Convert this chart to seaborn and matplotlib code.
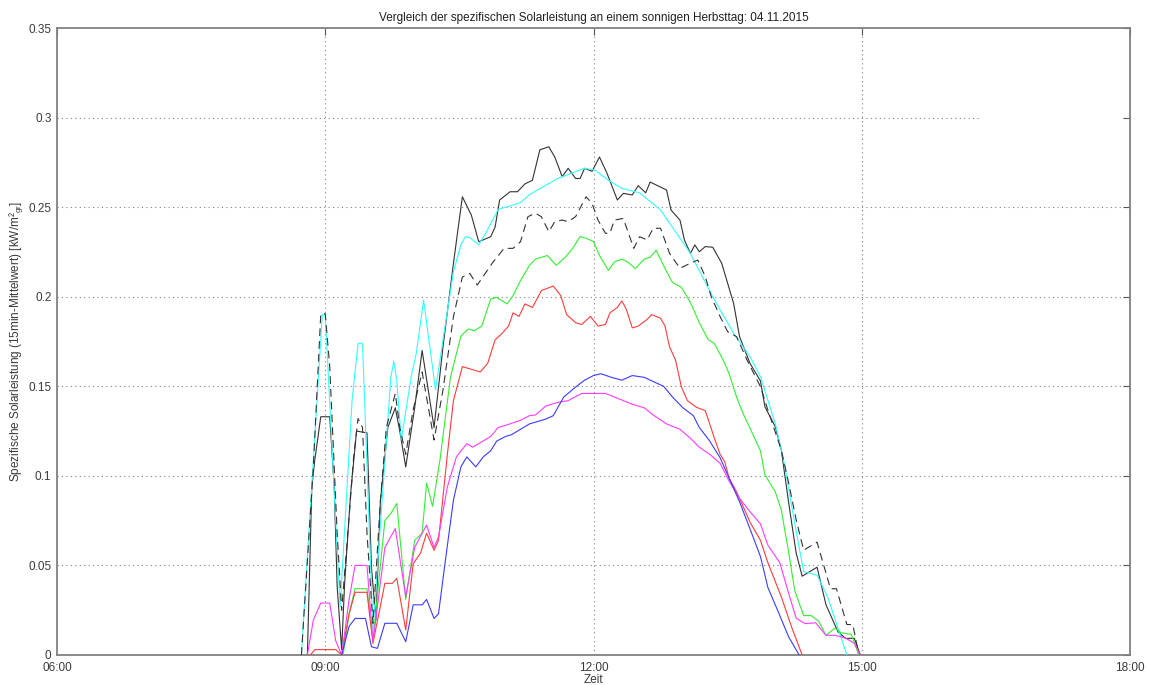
import numpy as np
import pandas as pd
import matplotlib
matplotlib.use("Agg")
import matplotlib.pyplot as plt
import seaborn as sns

# Specific PV output (15-min mean), kW per m² ground area, 04.11.2015
zeit_a = ["08:48", "08:51", "08:53", "08:57", "09:03", "09:06", "09:08", "09:11", "09:13", "09:17",
          "09:21", "09:28", "09:31", "09:34", "09:37", "09:42", "09:47", "09:50", "09:54", "10:00",
          "10:05", "10:13", "10:19", "10:26", "10:32", "10:38", "10:43", "10:51", "10:54", "10:57",
          "11:04", "11:09", "11:14", "11:19", "11:24", "11:30", "11:34", "11:39", "11:43", "11:48",
          "11:51", "11:54", "11:59", "12:04", "12:09", "12:16", "12:20", "12:26", "12:30", "12:35",
          "12:38", "12:49", "12:52", "12:58", "13:01", "13:05", "13:08", "13:11", "13:15", "13:20",
          "13:26", "13:30", "13:34", "13:38", "13:45", "13:52", "13:55", "14:02", "14:06", "14:11",
          "14:16", "14:20", "14:30", "14:36", "14:44", "14:49", "14:55", "14:59"]
leistung_a = [0.0, 0.094, 0.109, 0.133, 0.133, 0.094, 0.038, 0.003, 0.040, 0.090,
              0.125, 0.124, 0.049, 0.0195, 0.086, 0.127, 0.138, 0.125, 0.105, 0.138,
              0.170, 0.127, 0.172, 0.2186, 0.2558, 0.2456, 0.2307, 0.2335, 0.239, 0.254,
              0.2586, 0.2586, 0.263, 0.265, 0.282, 0.2837, 0.278, 0.267, 0.2717, 0.266,
              0.266, 0.2717, 0.270, 0.278, 0.269, 0.254, 0.2577, 0.2568, 0.262, 0.258,
              0.264, 0.2596, 0.2484, 0.2428, 0.2317, 0.2242, 0.2289, 0.2251, 0.228, 0.2276,
              0.2187, 0.2075, 0.1963, 0.1777, 0.1628, 0.153, 0.1386, 0.1274, 0.1144, 0.0847,
              0.0568, 0.044, 0.049, 0.028, 0.013, 0.0093, 0.0093, 0.0]

zeit_b = ["08:44", "08:58", "09:00", "09:10", "09:18", "09:22", "09:25", "09:32", "09:44", "09:46",
          "09:48", "09:51", "09:58", "10:01", "10:06", "10:14", "10:19", "10:26", "10:31", "10:34",
          "10:37", "10:43", "10:48", "10:56", "11:11", "11:17", "11:36", "11:54", "12:01", "12:10",
          "12:19", "12:31", "12:45", "13:05", "13:20", "13:34", "13:45", "13:52", "14:02", "14:08",
          "14:15", "14:21", "14:30", "14:37", "14:50"]
leistung_b = [0.0, 0.190, 0.190, 0.027, 0.142, 0.174, 0.174, 0.014, 0.155, 0.164,
              0.153, 0.120, 0.157, 0.168, 0.198, 0.148, 0.176, 0.214, 0.229, 0.2335,
              0.233, 0.229, 0.236, 0.2487, 0.2525, 0.257, 0.266, 0.2717, 0.2707, 0.265,
              0.2605, 0.258, 0.2484, 0.2242, 0.200, 0.1796, 0.1665, 0.1554, 0.129, 0.107,
              0.0735, 0.0465, 0.0446, 0.0326, 0.0]

zeit_c = ["08:44", "08:52", "08:57", "09:00", "09:03", "09:08", "09:11", "09:16", "09:19", "09:22",
          "09:25", "09:28", "09:32", "09:37", "09:41", "09:47", "09:50", "09:54", "09:59", "10:05",
          "10:13", "10:19", "10:26", "10:32", "10:37", "10:42", "10:52", "11:00", "11:06", "11:11",
          "11:16", "11:21", "11:25", "11:30", "11:34", "11:39", "11:43", "11:48", "11:55", "11:59",
          "12:03", "12:08", "12:11", "12:14", "12:20", "12:27", "12:31", "12:36", "12:40", "12:45",
          "12:51", "12:58", "13:05", "13:10", "13:15", "13:19", "13:25", "13:30", "13:36", "13:43",
          "13:52", "13:57", "14:06", "14:11", "14:16", "14:21", "14:30", "14:39", "14:43", "14:50",
          "14:54", "14:58"]
leistung_c = [0.0, 0.105, 0.1905, 0.1905, 0.161, 0.068, 0.025, 0.077, 0.110, 0.132,
              0.127, 0.068, 0.0177, 0.086, 0.127, 0.146, 0.127, 0.112, 0.137, 0.158,
              0.120, 0.148, 0.1888, 0.211, 0.213, 0.2065, 0.2187, 0.227, 0.227, 0.2307,
              0.2447, 0.2466, 0.2447, 0.2363, 0.2419, 0.2428, 0.2419, 0.2447, 0.2558, 0.2521,
              0.2428, 0.2354, 0.2354, 0.2428, 0.2437, 0.227, 0.2335, 0.2317, 0.2382, 0.2382,
              0.2242, 0.2159, 0.2187, 0.2205, 0.2112, 0.200, 0.1888, 0.1805, 0.1777, 0.1647,
              0.1498, 0.1368, 0.1144, 0.0958, 0.0754, 0.0585, 0.063, 0.037, 0.037, 0.017,
              0.017, 0.0]

zeit_d = ["09:12", "09:16", "09:20", "09:28", "09:32", "09:40", "09:44", "09:48", "09:54", "10:00",
          "10:05", "10:08", "10:12", "10:17", "10:24", "10:31", "10:36", "10:40", "10:45", "10:51",
          "10:55", "11:02", "11:06", "11:11", "11:17", "11:21", "11:29", "11:35", "11:41", "11:46",
          "11:51", "11:55", "12:00", "12:04", "12:10", "12:14", "12:19", "12:23", "12:28", "12:34",
          "12:38", "12:42", "12:48", "12:53", "12:59", "13:05", "13:11", "13:17", "13:21", "13:27",
          "13:31", "13:36", "13:40", "13:47", "13:52", "13:55", "14:02", "14:06", "14:11", "14:15",
          "14:21", "14:26", "14:31", "14:36", "14:42", "14:46", "14:53", "14:58"]
leistung_d = [0.0, 0.023, 0.037, 0.037, 0.008, 0.075, 0.079, 0.0846, 0.031, 0.064,
              0.068, 0.096, 0.083, 0.109, 0.155, 0.178, 0.182, 0.181, 0.1836, 0.1987,
              0.1996, 0.196, 0.2006, 0.209, 0.2175, 0.221, 0.223, 0.2175, 0.222, 0.227,
              0.2336, 0.2326, 0.2308, 0.223, 0.2147, 0.2194, 0.221, 0.2194, 0.2157, 0.221,
              0.222, 0.226, 0.2157, 0.208, 0.2053, 0.1968, 0.1855, 0.176, 0.174, 0.1647,
              0.157, 0.144, 0.1355, 0.123, 0.114, 0.1006, 0.091, 0.081, 0.057, 0.036,
              0.022, 0.022, 0.019, 0.011, 0.015, 0.0125, 0.0115, 0.0]

zeit_e = ["08:50", "08:53", "09:07", "09:11", "09:16", "09:20", "09:28", "09:32", "09:40", "09:45",
          "09:48", "09:54", "09:59", "10:04", "10:08", "10:13", "10:16", "10:22", "10:26", "10:32",
          "10:36", "10:44", "10:49", "10:54", "10:58", "11:03", "11:06", "11:10", "11:14", "11:19",
          "11:25", "11:33", "11:38", "11:42", "11:48", "11:52", "11:58", "12:03", "12:08", "12:11",
          "12:16", "12:19", "12:22", "12:26", "12:30", "12:36", "12:39", "12:45", "12:48", "12:51",
          "12:55", "12:59", "13:03", "13:09", "13:15", "13:18", "13:21", "13:25", "13:28", "13:31",
          "13:36", "13:40", "13:45", "13:52", "13:57", "14:06", "14:13", "14:20"]
leistung_e = [0.0, 0.003, 0.003, 0.0, 0.023, 0.035, 0.035, 0.0065, 0.040, 0.040,
              0.0428, 0.014, 0.051, 0.057, 0.068, 0.0585, 0.064, 0.1125, 0.142, 0.161,
              0.160, 0.158, 0.1628, 0.176, 0.179, 0.1836, 0.191, 0.189, 0.196, 0.194,
              0.2034, 0.206, 0.2006, 0.190, 0.1855, 0.1845, 0.189, 0.1836, 0.1845, 0.191,
              0.194, 0.1977, 0.193, 0.1826, 0.1836, 0.1874, 0.190, 0.188, 0.1836, 0.172,
              0.1647, 0.1496, 0.142, 0.1383, 0.1364, 0.1289, 0.1213, 0.1119, 0.108, 0.0987,
              0.0911, 0.0836, 0.0742, 0.064, 0.0515, 0.0325, 0.0154, 0.0]

zeit_f = ["08:48", "08:52", "08:57", "09:03", "09:07", "09:11", "09:16", "09:20", "09:28", "09:32",
          "09:40", "09:47", "09:54", "10:00", "10:05", "10:08", "10:13", "10:16", "10:22", "10:28",
          "10:35", "10:39", "10:45", "10:51", "10:56", "11:04", "11:11", "11:17", "11:21", "11:28",
          "11:36", "11:43", "11:52", "12:08", "12:17", "12:26", "12:34", "12:40", "12:49", "12:58",
          "13:05", "13:11", "13:18", "13:25", "13:31", "13:38", "13:45", "13:52", "13:57", "14:05",
          "14:11", "14:16", "14:22", "14:29", "14:36", "14:42", "14:49", "14:55", "14:59"]
leistung_f = [0.0, 0.0195, 0.029, 0.029, 0.008, 0.0, 0.031, 0.050, 0.050, 0.0074,
              0.060, 0.0706, 0.0325, 0.060, 0.068, 0.0725, 0.060, 0.066, 0.094, 0.1106,
              0.118, 0.116, 0.119, 0.122, 0.127, 0.129, 0.131, 0.1336, 0.134, 0.139,
              0.141, 0.142, 0.146, 0.146, 0.143, 0.140, 0.138, 0.134, 0.129, 0.126,
              0.121, 0.116, 0.112, 0.107, 0.097, 0.0874, 0.080, 0.0732, 0.0613, 0.0515,
              0.0342, 0.0205, 0.0175, 0.018, 0.011, 0.011, 0.0095, 0.0065, 0.0]

zeit_g = ["09:11", "09:16", "09:20", "09:27", "09:31", "09:35", "09:40", "09:48", "09:54", "09:59",
          "10:05", "10:08", "10:13", "10:16", "10:20", "10:26", "10:31", "10:35", "10:41", "10:46",
          "10:51", "10:55", "11:01", "11:05", "11:11", "11:17", "11:28", "11:33", "11:40", "11:48",
          "11:54", "12:00", "12:05", "12:12", "12:19", "12:26", "12:34", "12:47", "12:53", "13:00",
          "13:07", "13:11", "13:18", "13:25", "13:31", "13:38", "13:45", "13:52", "13:57", "14:04",
          "14:11", "14:18"]
leistung_g = [0.0, 0.016, 0.0204, 0.0204, 0.0046, 0.0037, 0.0177, 0.0177, 0.0074, 0.028,
              0.028, 0.031, 0.0204, 0.023, 0.049, 0.0864, 0.105, 0.1106, 0.105, 0.1106,
              0.114, 0.1194, 0.122, 0.123, 0.126, 0.129, 0.1317, 0.1336, 0.144, 0.1496,
              0.1534, 0.156, 0.157, 0.155, 0.1534, 0.156, 0.155, 0.150, 0.144, 0.138,
              0.1336, 0.127, 0.1194, 0.110, 0.0987, 0.0855, 0.0704, 0.055, 0.0377, 0.024,
              0.010, 0.0]

x_ticks = [6, 9, 12, 15, 18]
x_labels = ["06:00", "09:00", "12:00", "15:00", "18:00"]
y_ticks = [0.0, 0.05, 0.1, 0.15, 0.2, 0.25, 0.3, 0.35]
y_labels = ["0", "0.05", "0.1", "0.15", "0.2", "0.25", "0.3", "0.35"]


def in_stunden(zeiten):
    return [int(t[:2]) + int(t[3:]) / 60.0 for t in zeiten]


reihen = [("A", zeit_a, leistung_a), ("B", zeit_b, leistung_b), ("C", zeit_c, leistung_c),
          ("D", zeit_d, leistung_d), ("E", zeit_e, leistung_e), ("F", zeit_f, leistung_f),
          ("G", zeit_g, leistung_g)]
df = pd.concat([pd.DataFrame({"stunde": in_stunden(z), "leistung": w, "anlage": n})
                for n, z, w in reihen], ignore_index=True)

farben = {"A": "#333333", "B": "#33ffff", "C": "#333333", "D": "#33ee33",
          "E": "#ff3b3b", "F": "#ff3bff", "G": "#3b3bff"}
striche = {"A": "", "B": "", "C": (7, 4.5), "D": "", "E": "", "F": "", "G": ""}

sns.set_style("white")
plt.rcParams["font.family"] = ["Liberation Sans", "DejaVu Sans"]
plt.rcParams["mathtext.fontset"] = "custom"
plt.rcParams["mathtext.rm"] = "Liberation Sans"
plt.rcParams["mathtext.it"] = "Liberation Sans:italic"

fig = plt.figure(figsize=(11.49, 6.85), dpi=100)
ax = fig.add_axes([0.0496, 0.0438, 0.9339, 0.9153])

grau = "#808080"
text = "#3a3a3a"

# dotted grid
for xv in x_ticks[1:-1]:
    ax.axvline(xv, color=grau, lw=0.8, ls=(0, (1, 3)), zorder=0)
for yv in y_ticks[1:-1]:
    ende = 0.86 if abs(yv - 0.3) < 1e-9 else 1.0
    ax.axhline(yv, xmax=ende, color=grau, lw=0.8, ls=(0, (1, 3)), zorder=0)

sns.lineplot(data=df, x="stunde", y="leistung", hue="anlage", style="anlage",
             palette=farben, dashes=striche, estimator=None, sort=True,
             linewidth=0.8, legend=False, ax=ax, zorder=3)

ax.set_xlim(6, 18)
ax.set_ylim(0, 0.35)
ax.set_xticks(x_ticks)
ax.set_xticklabels(x_labels)
ax.set_yticks(y_ticks)
ax.set_yticklabels(y_labels)
ax.tick_params(direction="in", top=True, right=True, length=5, width=0.8,
               color="#555555", labelcolor=text, labelsize=8.5)
ax.tick_params(axis="x", pad=5)
ax.tick_params(axis="y", pad=4)
for s in ax.spines.values():
    s.set_visible(True)
    s.set_color(grau)
    s.set_linewidth(1.3)

ax.set_title("Vergleich der spezifischen Solarleistung an einem sonnigen Herbsttag: 04.11.2015",
             fontsize=8.5, color="#202020", pad=5)
ax.set_xlabel("Zeit", fontsize=8.5, color=text, labelpad=0)
ax.set_ylabel(r"Spezifische Solarleistung (15min-Mittelwert) [kW/m²$_{\mathrm{gr}}$]",
              fontsize=8.5, color=text, labelpad=2)

fig.savefig("out.png", dpi=100)
